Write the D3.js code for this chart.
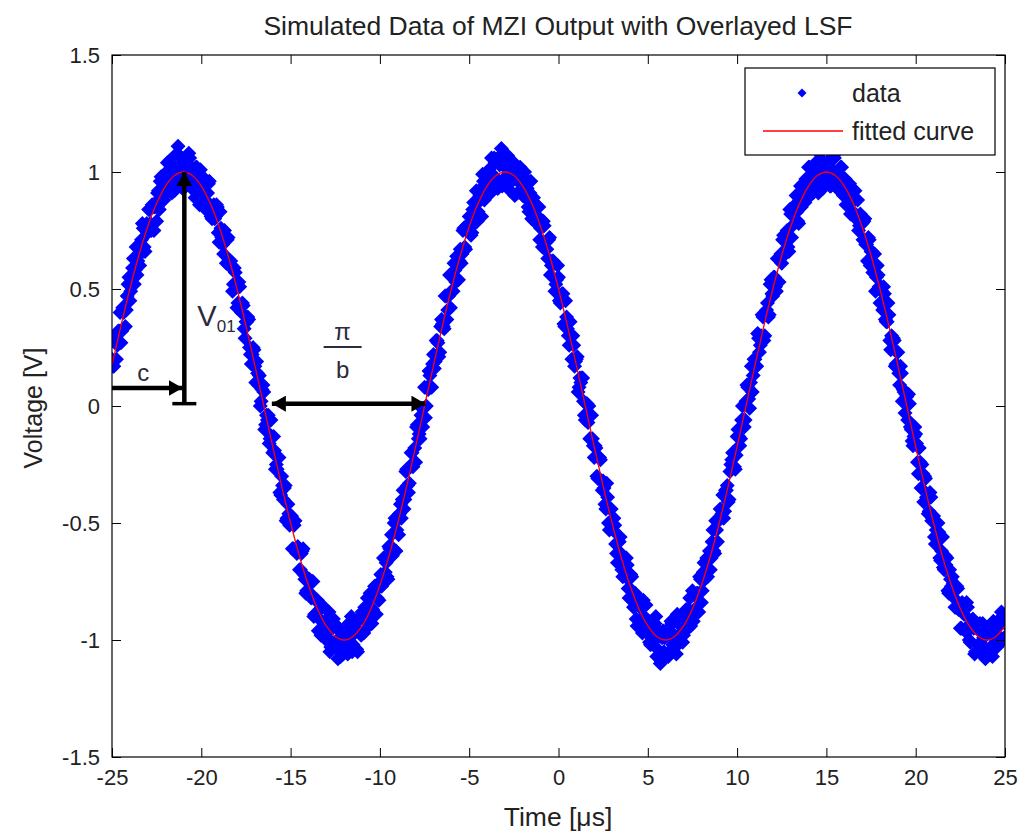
<!DOCTYPE html>
<html>
<head>
<meta charset="utf-8">
<script src="https://cdn.jsdelivr.net/npm/d3@7"></script>
<style>
  body { margin: 0; background: #fff; }
  svg { display: block; font-family: "Liberation Sans", Arial, Helvetica, sans-serif; }
</style>
</head>
<body>
<svg id="chart" width="1024" height="840"></svg>
<script>
// sampled data: two interleaved passes, each 0.1 us apart
const dataStep = 0.1;
const timeStartA = -25;
const dataVoltageA = [
  0.20,0.17,0.30,0.26,0.32,0.27,0.42,0.41,0.41,0.52,
  0.45,0.55,0.63,0.58,0.56,0.67,0.65,0.78,0.68,0.75,
  0.74,0.84,0.75,0.85,0.85,0.79,0.92,0.96,0.89,0.88,
  0.97,1.04,0.95,0.93,1.03,0.92,1.01,1.11,0.97,1.06,
  0.98,
  0.95,1.04,1.08,0.96,1.01,0.92,1.02,0.97,0.86,0.97,
  0.91,0.97,0.86,0.95,0.86,0.80,0.86,0.81,0.85,0.70,
  0.76,0.69,0.75,0.61,0.72,0.60,0.60,0.52,0.57,0.42,
  0.53,0.43,0.44,0.33,0.36,0.38,0.25,0.18,0.25,0.17,
  0.19,0.09,0.00,0.07,0.06,-0.08,-0.06,-0.16,-0.06,-0.20,
  -0.19,-0.25,-0.22,-0.37,-0.30,-0.40,-0.34,-0.48,-0.46,-0.47,
  -0.61,-0.51,-0.62,-0.60,-0.70,-0.63,-0.61,-0.74,-0.79,-0.74,
  -0.80,-0.75,-0.90,-0.83,-0.83,-0.91,-0.98,-0.86,-0.92,-1.00,
  -0.92,-1.05,-0.95,-0.91,-1.03,-1.00,-0.95,-1.07,-0.97,-1.02,
  -0.96,-1.06,-0.98,-0.90,-1.02,-0.97,-1.04,-0.91,-0.97,-0.88,
  -0.97,-0.88,-0.82,-0.93,-0.86,-0.87,-0.77,-0.89,-0.76,-0.77,
  -0.77,-0.65,-0.71,-0.73,-0.60,-0.60,-0.64,-0.50,-0.62,-0.47,
  -0.46,-0.48,-0.36,-0.40,-0.27,-0.37,-0.26,-0.20,-0.24,-0.24,
  -0.08,-0.12,-0.04,-0.09,0.08,0.00,0.07,0.13,0.08,0.22,
  0.19,0.28,0.21,0.34,0.35,0.33,0.47,0.41,0.56,0.49,
  0.49,0.58,0.64,0.54,0.67,0.65,0.76,0.67,0.75,0.81,
  0.73,0.84,0.82,0.92,0.83,0.90,0.81,0.96,0.93,0.91,
  1.01,0.91,0.99,1.06,0.97,0.93,1.03,1.10,0.96,1.02,
  0.97,1.06,0.92,1.01,1.04,0.97,0.91,1.00,0.96,0.90,
  1.00,0.89,0.85,0.91,0.80,0.89,0.85,0.78,0.85,0.76,
  0.68,0.77,0.70,0.63,0.72,0.60,0.62,0.49,0.54,0.55,
  0.44,0.48,0.35,0.45,0.33,0.26,0.30,0.30,0.17,0.20,
  0.06,0.12,0.12,0.02,-0.06,0.01,0.00,-0.14,-0.14,-0.22,
  -0.18,-0.31,-0.22,-0.32,-0.32,-0.42,-0.33,-0.50,-0.44,-0.52,
  -0.48,-0.59,-0.67,-0.58,-0.63,-0.73,-0.68,-0.65,-0.78,-0.78,
  -0.73,-0.86,-0.80,-0.94,-0.85,-0.84,-0.97,-0.90,-0.85,-0.97,
  -1.01,-0.94,-1.01,-0.93,-1.07,-0.96,-1.10,-0.99,-1.05,-0.96,
  -0.98,-1.05,-0.92,-1.02,-0.98,-1.06,-0.93,-0.90,-0.97,-0.98,
  -0.88,-0.92,-0.87,-0.94,-0.79,-0.87,-0.87,-0.80,-0.73,-0.84,
  -0.71,-0.74,-0.65,-0.66,-0.70,-0.58,-0.62,-0.49,-0.58,-0.48,
  -0.48,-0.38,-0.45,-0.36,-0.41,-0.28,-0.23,-0.26,-0.27,-0.13,
  -0.13,-0.14,0.00,-0.09,0.02,0.08,-0.01,0.17,0.13,0.20,
  0.17,0.29,0.26,0.39,0.28,0.39,0.44,0.39,0.54,0.47,
  0.55,0.49,0.63,0.63,0.61,0.73,0.65,0.75,0.66,0.82,
  0.77,0.85,0.90,0.79,0.88,0.85,0.95,0.87,0.95,1.02,
  0.90,0.99,0.96,1.04,0.95,1.08,0.98,0.93,1.04,1.01,
  1.04,0.94,1.00,1.07,0.95,0.93,0.99,1.02,0.91,0.97,
  0.86,0.93,0.95,0.87,0.83,0.92,0.81,0.75,0.82,0.78,
  0.79,0.69,0.62,0.71,0.66,0.57,0.65,0.55,0.56,0.44,
  0.49,0.51,0.37,0.36,0.39,0.24,0.29,0.28,0.18,0.23,
  0.09,0.14,0.07,-0.03,0.04,0.05,-0.09,-0.15,-0.13,-0.12,
  -0.24,-0.18,-0.35,-0.29,-0.30,-0.39,-0.46,-0.37,-0.49,-0.47,
  -0.59,-0.55,-0.54,-0.66,-0.56,-0.70,-0.68,-0.79,-0.70,-0.77,
  -0.76,-0.86,-0.77,-0.87,-0.95,-0.84,-0.89,-0.95,-0.86,-1.00,
  -0.93,-0.91,-1.06,-0.95,-1.02,-0.93,-1.06,-0.99,-1.08,-0.96,
  -0.95,-1.03,-1.07,-0.97,-1.03,-0.92,-0.99,-0.88,-1.00,-0.93
];

const timeStartB = -24.95;
const dataVoltageB = [
  0.17,0.28,0.20,0.32,0.40,0.32,0.40,0.34,0.47,0.55,
  0.49,0.59,0.52,0.68,0.62,0.60,0.71,0.76,0.66,0.78,
  0.84,0.78,0.86,0.75,0.87,0.91,0.84,0.98,0.88,0.93,
  1.00,0.93,1.05,0.91,1.00,0.98,1.08,0.96,1.03,0.93,
  1.03,0.94,1.01,1.06,0.95,1.00,0.89,1.02,0.95,1.01,
  0.90,0.96,0.84,0.91,0.96,0.81,0.85,0.80,0.86,0.74,
  0.83,0.72,0.65,0.71,0.71,0.60,0.62,0.49,0.59,0.53,
  0.44,0.51,0.40,0.43,0.29,0.36,0.37,0.22,0.22,0.24,
  0.10,0.14,0.13,0.02,0.09,-0.10,-0.04,-0.04,-0.14,-0.13,
  -0.13,-0.27,-0.27,-0.22,-0.38,-0.34,-0.35,-0.49,-0.42,-0.51,
  -0.47,-0.61,-0.49,-0.63,-0.62,-0.70,-0.62,-0.72,-0.80,-0.74,
  -0.74,-0.82,-0.75,-0.89,-0.83,-0.96,-0.87,-0.85,-0.95,-0.92,
  -0.99,-0.88,-1.03,-0.95,-0.93,-1.02,-1.08,-0.96,-0.99,-1.06,
  -1.05,-0.97,-0.93,-1.01,-1.05,-0.94,-0.96,-1.05,-0.91,-0.98,
  -0.91,-0.86,-0.95,-0.90,-0.80,-0.93,-0.81,-0.77,-0.82,-0.83,
  -0.72,-0.76,-0.65,-0.67,-0.74,-0.61,-0.55,-0.61,-0.48,-0.53,
  -0.55,-0.42,-0.40,-0.44,-0.28,-0.34,-0.33,-0.20,-0.26,-0.18,
  -0.09,-0.14,-0.14,-0.01,-0.01,-0.05,0.08,0.15,0.08,0.18,
  0.16,0.28,0.27,0.23,0.37,0.34,0.47,0.37,0.47,0.42,
  0.55,0.61,0.53,0.62,0.62,0.61,0.75,0.68,0.77,0.77,
  0.76,0.74,0.87,0.87,0.79,0.92,0.88,0.99,0.88,0.95,
  0.96,0.91,1.06,0.94,1.04,0.97,0.95,1.07,0.94,1.03,
  0.98,1.07,0.95,1.00,1.03,0.90,1.00,0.96,1.02,0.91,
  0.98,0.89,0.93,0.83,0.96,0.84,0.79,0.86,0.81,0.71,
  0.79,0.79,0.67,0.67,0.71,0.56,0.62,0.61,0.52,0.60,
  0.45,0.46,0.48,0.34,0.38,0.30,0.36,0.20,0.26,0.19,
  0.21,0.08,0.10,0.12,-0.04,0.01,-0.07,-0.14,-0.04,-0.17,
  -0.17,-0.30,-0.22,-0.23,-0.36,-0.35,-0.44,-0.39,-0.53,-0.44,
  -0.53,-0.51,-0.63,-0.58,-0.56,-0.70,-0.65,-0.73,-0.68,-0.82,
  -0.72,-0.83,-0.81,-0.91,-0.82,-0.86,-0.94,-0.83,-0.94,-0.97,
  -0.92,-1.02,-0.92,-0.99,-0.90,-1.04,-0.97,-1.09,-0.96,-0.99,
  -0.96,-1.07,-0.98,-0.93,-1.02,-1.03,-0.89,-0.98,-0.93,-1.01,
  -0.92,-0.87,-0.95,-0.82,-0.90,-0.92,-0.81,-0.80,-0.88,-0.74,
  -0.79,-0.67,-0.70,-0.73,-0.62,-0.65,-0.53,-0.63,-0.53,-0.49,
  -0.44,-0.46,-0.48,-0.36,-0.34,-0.40,-0.25,-0.20,-0.26,-0.21,
  -0.10,-0.17,-0.06,-0.06,-0.06,0.09,0.03,0.10,0.06,0.20,
  0.17,0.31,0.23,0.30,0.38,0.30,0.41,0.38,0.52,0.48,
  0.55,0.51,0.63,0.53,0.65,0.71,0.65,0.72,0.68,0.84,
  0.72,0.82,0.86,0.83,0.78,0.94,0.92,0.87,0.97,0.91,
  1.02,0.93,0.91,1.01,1.00,0.91,1.04,1.09,0.98,0.96,
  0.97,1.05,0.94,1.01,1.06,0.94,0.98,0.95,1.02,0.90,
  0.97,0.91,0.94,0.82,0.93,0.88,0.80,0.88,0.77,0.79,
  0.71,0.80,0.69,0.72,0.60,0.66,0.61,0.49,0.60,0.51,
  0.51,0.41,0.48,0.36,0.44,0.28,0.30,0.29,0.17,0.23,
  0.14,0.17,0.02,0.06,0.05,-0.06,0.01,-0.10,-0.17,-0.09,
  -0.16,-0.29,-0.24,-0.25,-0.41,-0.31,-0.40,-0.45,-0.39,-0.48,
  -0.56,-0.53,-0.50,-0.65,-0.62,-0.69,-0.64,-0.65,-0.80,-0.74,
  -0.73,-0.82,-0.86,-0.78,-0.85,-0.95,-0.86,-0.96,-0.84,-0.96,
  -1.01,-0.92,-0.95,-1.05,-0.93,-0.96,-1.04,-0.93,-1.03,-1.07,
  -0.96,-1.06,-0.98,-0.92,-1.02,-1.03,-0.94,-0.99,-0.90,-0.99
];

// fitted curve, 0.5 us apart starting at -25 us
const fitStart = -25;
const fitStep = 0.5;
const fitVoltage = [
  0.174,0.342,0.5,0.643,0.766,0.866,0.940,0.985,1,
  0.985,0.940,0.866,0.766,0.643,0.5,0.342,0.174,0,-0.174,-0.342,-0.5,-0.643,-0.766,-0.866,-0.940,-0.985,-1,
  -0.985,-0.940,-0.866,-0.766,-0.643,-0.5,-0.342,-0.174,0,0.174,0.342,0.5,0.643,0.766,0.866,0.940,0.985,1,
  0.985,0.940,0.866,0.766,0.643,0.5,0.342,0.174,0,-0.174,-0.342,-0.5,-0.643,-0.766,-0.866,-0.940,-0.985,-1,
  -0.985,-0.940,-0.866,-0.766,-0.643,-0.5,-0.342,-0.174,0,0.174,0.342,0.5,0.643,0.766,0.866,0.940,0.985,1,
  0.985,0.940,0.866,0.766,0.643,0.5,0.342,0.174,0,-0.174,-0.342,-0.5,-0.643,-0.766,-0.866,-0.940,-0.985,-1,
  -0.985,-0.940
];

const xTicks = [-25, -20, -15, -10, -5, 0, 5, 10, 15, 20, 25];
const yTicks = [-1.5, -1, -0.5, 0, 0.5, 1, 1.5];
const legendLabels = ["data", "fitted curve"];

// annotation anchors, in data units
const peakTime = -20.95;
const cArrow = [-25, -21.05, 0.077];        // from, to, level
const ampArrow = [0.01, 1.0];               // bottom, top
const halfPeriod = [-16.05, -7.45, 0.01];   // from, to, level

const svg = d3.select("#chart");
const x = d3.scaleLinear().domain([-25, 25]).range([112, 1005]);
const y = d3.scaleLinear().domain([-1.5, 1.5]).range([757, 55]);

const points = dataVoltageA.map((v, i) => [timeStartA + i * dataStep, v])
  .concat(dataVoltageB.map((v, i) => [timeStartB + i * dataStep, v]));
const fit = fitVoltage.map((v, i) => [fitStart + i * fitStep, v]);

svg.append("clipPath").attr("id", "plot")
  .append("rect").attr("x", 112).attr("y", 55).attr("width", 893).attr("height", 702);

const g = svg.append("g").attr("clip-path", "url(#plot)");

g.selectAll("path.pt")
  .data(points)
  .enter().append("path")
  .attr("class", "pt")
  .attr("d", "M0,-7.5L7.5,0L0,7.5L-7.5,0Z")
  .attr("transform", d => `translate(${x(d[0])},${y(d[1])})`)
  .attr("fill", "#0000ff");

g.append("path")
  .datum(fit)
  .attr("d", d3.line().x(d => x(d[0])).y(d => y(d[1])).curve(d3.curveCatmullRom))
  .attr("fill", "none")
  .attr("stroke", "#ff0000")
  .attr("stroke-width", 1.3);

// axes, matlab style: ticks inside on all four sides
const fmt = d => String(d);
const axes = [
  [d3.axisBottom(x).tickValues(xTicks).tickFormat(fmt), 0, 757],
  [d3.axisTop(x).tickValues(xTicks).tickFormat(""), 0, 55],
  [d3.axisLeft(y).tickValues(yTicks).tickFormat(fmt), 112, 0],
  [d3.axisRight(y).tickValues(yTicks).tickFormat(""), 1005, 0]
];
axes.forEach(([ax, tx, ty]) => {
  const a = svg.append("g")
    .attr("transform", `translate(${tx},${ty})`)
    .call(ax.tickSizeInner(-9).tickSizeOuter(0).tickPadding(12));
  a.select(".domain").remove();
  a.selectAll("line").attr("stroke", "#000");
  a.selectAll("text").attr("fill", "#222").style("font-size", "22px").style("font-family", null);
});

svg.append("rect")
  .attr("x", 112).attr("y", 55).attr("width", 893).attr("height", 702)
  .attr("fill", "none").attr("stroke", "#000").attr("stroke-width", 1.2);

// titles
svg.append("text").attr("x", 558).attr("y", 35).attr("text-anchor", "middle")
  .style("font-size", "26.5px").attr("fill", "#222")
  .text("Simulated Data of MZI Output with Overlayed LSF");
svg.append("text").attr("x", 558).attr("y", 826).attr("text-anchor", "middle")
  .style("font-size", "26.5px").attr("fill", "#222")
  .text("Time [\u03bcs]");
svg.append("text").attr("transform", "translate(42,408) rotate(-90)").attr("text-anchor", "middle")
  .style("font-size", "25px").attr("fill", "#222")
  .text("Voltage [V]");

// annotations
const defs = svg.append("defs");
defs.append("marker").attr("id", "head")
  .attr("markerUnits", "userSpaceOnUse")
  .attr("viewBox", "0 -8 14 16").attr("refX", 14).attr("refY", 0)
  .attr("markerWidth", 14).attr("markerHeight", 16)
  .attr("orient", "auto-start-reverse")
  .append("path").attr("d", "M0,-8L14,0L0,8Z").attr("fill", "#000");

const ann = svg.append("g").attr("stroke", "#000").attr("stroke-width", 4.5);
ann.append("line")
  .attr("x1", x(peakTime)).attr("x2", x(peakTime))
  .attr("y1", y(ampArrow[0])).attr("y2", y(ampArrow[1]))
  .attr("marker-end", "url(#head)");
ann.append("line")
  .attr("x1", x(peakTime) - 12).attr("x2", x(peakTime) + 12)
  .attr("y1", y(ampArrow[0])).attr("y2", y(ampArrow[0]))
  .attr("stroke-width", 3.5);
ann.append("line")
  .attr("x1", x(cArrow[0])).attr("x2", x(cArrow[1]))
  .attr("y1", y(cArrow[2])).attr("y2", y(cArrow[2]))
  .attr("marker-end", "url(#head)");
ann.append("line")
  .attr("x1", x(halfPeriod[0])).attr("x2", x(halfPeriod[1]))
  .attr("y1", y(halfPeriod[2])).attr("y2", y(halfPeriod[2]))
  .attr("marker-start", "url(#head)").attr("marker-end", "url(#head)");

const lab = svg.append("g").attr("fill", "#2b2b3a");
lab.append("text").attr("x", (x(cArrow[0]) + x(cArrow[1])) / 2 - 4).attr("y", y(cArrow[2]) - 7)
  .attr("text-anchor", "middle").style("font-size", "24px").text("c");
const vt = lab.append("text").attr("x", x(peakTime) + 13).attr("y", 326).style("font-size", "29px");
vt.append("tspan").text("V");
vt.append("tspan").attr("dy", 6).style("font-size", "17px").text("01");
const midHalf = (x(halfPeriod[0]) + x(halfPeriod[1])) / 2 - 6;
lab.append("text").attr("x", midHalf).attr("y", 340).attr("text-anchor", "middle")
  .style("font-size", "24px").text("\u03c0");
lab.append("line").attr("x1", midHalf - 19).attr("x2", midHalf + 19)
  .attr("y1", 347).attr("y2", 347).attr("stroke", "#2b2b3a").attr("stroke-width", 2);
lab.append("text").attr("x", midHalf).attr("y", 378).attr("text-anchor", "middle")
  .style("font-size", "24px").text("b");

// legend
const leg = svg.append("g");
leg.append("rect").attr("x", 745).attr("y", 68).attr("width", 250).attr("height", 87)
  .attr("fill", "#fff").attr("stroke", "#000").attr("stroke-width", 1.2);
leg.append("path").attr("d", "M0,-4.5L4.5,0L0,4.5L-4.5,0Z")
  .attr("transform", "translate(802,93)").attr("fill", "#0000ff");
leg.append("line").attr("x1", 763).attr("x2", 843).attr("y1", 131).attr("y2", 131)
  .attr("stroke", "#ff0000").attr("stroke-width", 1.3);
leg.selectAll("text.lg").data(legendLabels).enter().append("text")
  .attr("class", "lg")
  .attr("x", 852).attr("y", (d, i) => 102 + i * 38)
  .style("font-size", "25px").attr("fill", "#222")
  .text(d => d);
</script>
</body>
</html>
